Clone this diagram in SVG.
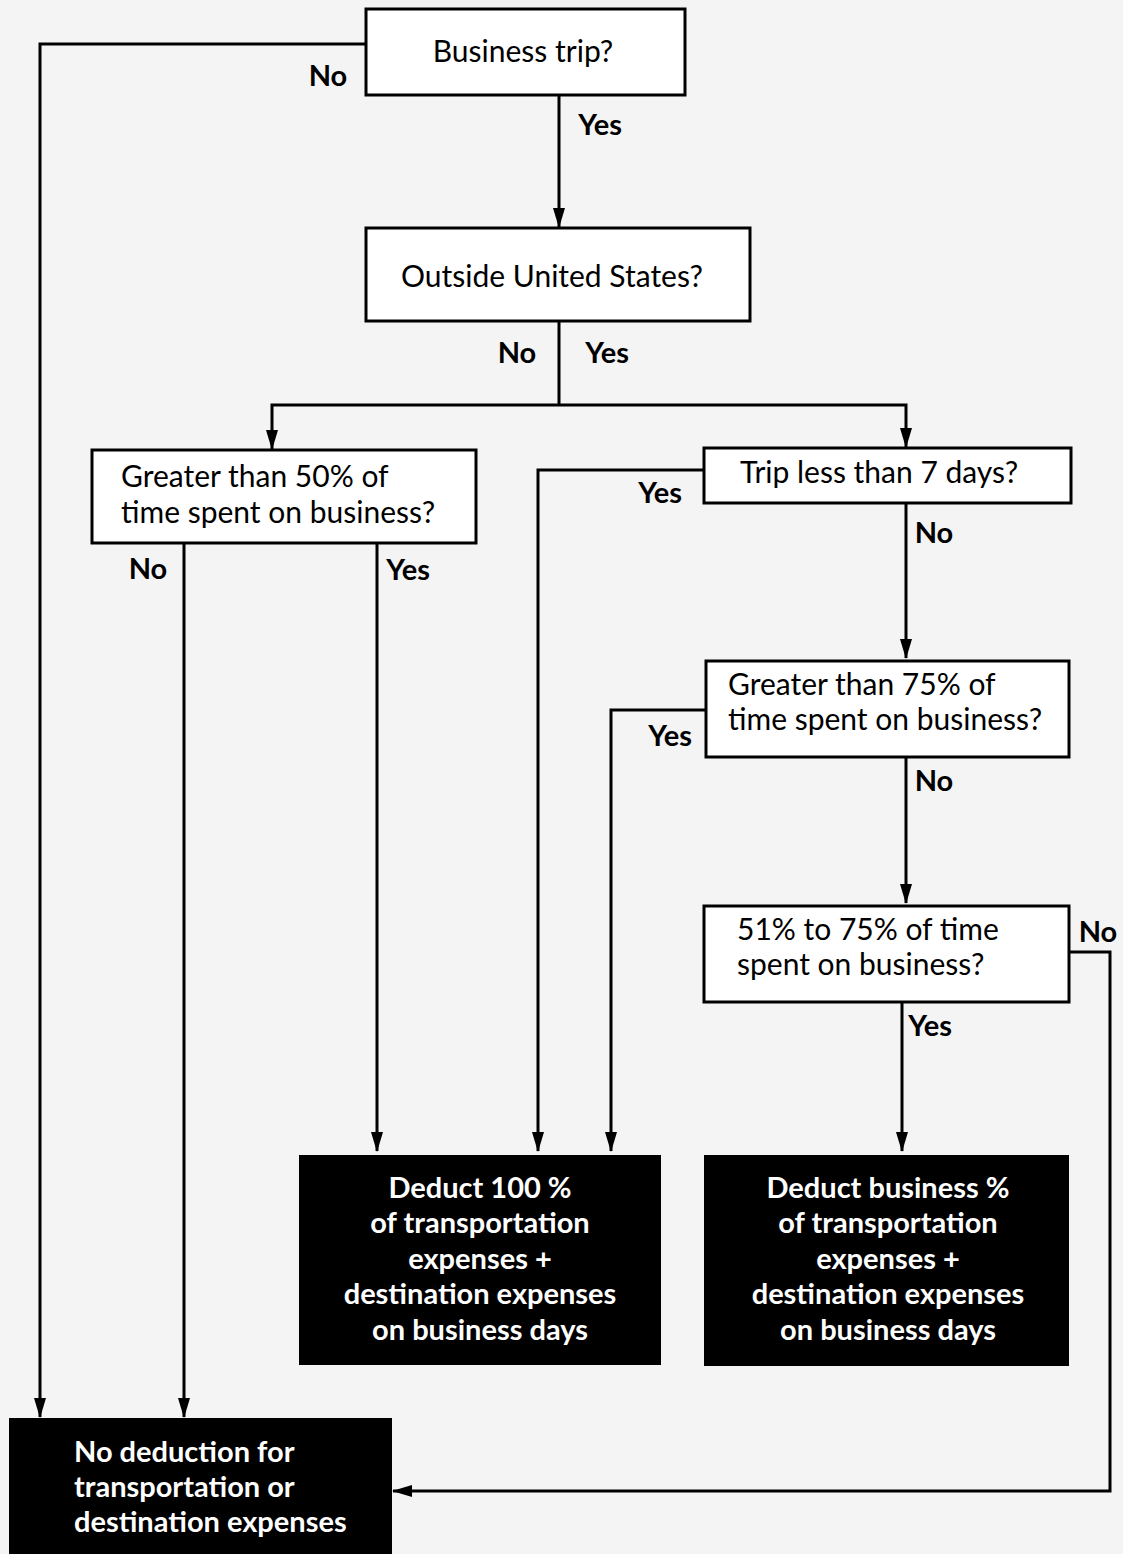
<svg xmlns="http://www.w3.org/2000/svg" width="1123" height="1554" viewBox="0 0 1123 1554">
<style>
.bg{fill:#f4f4f4}
.q{fill:#fff;stroke:#000;stroke-width:3}
.r{fill:#000}
.t{font-family:"Lato","Open Sans",sans-serif;font-size:30px;fill:#000}
.w{font-family:"Lato","Open Sans",sans-serif;font-size:29px;font-weight:bold;fill:#fff;text-anchor:middle}
.ws{font-family:"Lato","Open Sans",sans-serif;font-size:29px;font-weight:bold;fill:#fff}
.l{font-family:"Lato","Open Sans",sans-serif;font-size:29px;font-weight:bold;fill:#000;text-anchor:middle}
.c{fill:none;stroke:#000;stroke-width:3}
</style>
<defs>
<marker id="a" markerWidth="20" markerHeight="12" refX="19" refY="6" orient="auto" markerUnits="userSpaceOnUse">
<path d="M0,0 L20,6 L0,12 Z" fill="#000"/>
</marker>
</defs>
<rect class="bg" x="0" y="0" width="1123" height="1554"/>
<g id="connectors">
<path class="c" d="M366,44 H40 V1417" marker-end="url(#a)"/>
<path class="c" d="M559,95 V227" marker-end="url(#a)"/>
<path class="c" d="M559,321 V405"/>
<path class="c" d="M559,405 H272 V449" marker-end="url(#a)"/>
<path class="c" d="M559,405 H906 V447" marker-end="url(#a)"/>
<path class="c" d="M184,543 V1417" marker-end="url(#a)"/>
<path class="c" d="M377,543 V1151" marker-end="url(#a)"/>
<path class="c" d="M704,470 H538 V1151" marker-end="url(#a)"/>
<path class="c" d="M906,503 V658" marker-end="url(#a)"/>
<path class="c" d="M706,710 H611 V1151" marker-end="url(#a)"/>
<path class="c" d="M906,757 V903" marker-end="url(#a)"/>
<path class="c" d="M902,1002 V1151" marker-end="url(#a)"/>
<path class="c" d="M1069,952 H1110 V1491 H393" marker-end="url(#a)"/>
<text class="l" x="328" y="86">No</text>
<text class="l" x="600" y="135">Yes</text>
<text class="l" x="517" y="363">No</text>
<text class="l" x="607" y="363">Yes</text>
<text class="l" x="148" y="579">No</text>
<text class="l" x="408" y="580">Yes</text>
<text class="l" x="660" y="503">Yes</text>
<text class="l" x="934" y="543">No</text>
<text class="l" x="670" y="746">Yes</text>
<text class="l" x="934" y="791">No</text>
<text class="l" x="1098" y="942">No</text>
<text class="l" x="930" y="1036">Yes</text>
</g>
<g id="n1">
<rect class="q" x="366" y="9" width="319" height="86"/>
<text class="t" x="523" y="62" text-anchor="middle">Business trip?</text>
</g>
<g id="n2">
<rect class="q" x="366" y="228" width="384" height="93"/>
<text class="t" x="552" y="287" text-anchor="middle">Outside United States?</text>
</g>
<g id="n3">
<rect class="q" x="92" y="450" width="384" height="93"/>
<text class="t" x="121" y="487">Greater than 50% of</text>
<text class="t" x="121" y="523">time spent on business?</text>
</g>
<g id="n4">
<rect class="q" x="704" y="448" width="367" height="55"/>
<text class="t" x="740" y="483">Trip less than 7 days?</text>
</g>
<g id="n5">
<rect class="q" x="706" y="661" width="363" height="96"/>
<text class="t" x="728" y="695">Greater than 75% of</text>
<text class="t" x="728" y="730">time spent on business?</text>
</g>
<g id="n6">
<rect class="q" x="704" y="906" width="365" height="96"/>
<text class="t" x="737" y="940">51% to 75% of time</text>
<text class="t" x="737" y="975">spent on business?</text>
</g>
<g id="n7">
<rect class="r" x="299" y="1155" width="362" height="210"/>
<text class="w" x="480" y="1198">Deduct 100 %</text>
<text class="w" x="480" y="1233">of transportation</text>
<text class="w" x="480" y="1269">expenses +</text>
<text class="w" x="480" y="1304">destination expenses</text>
<text class="w" x="480" y="1340">on business days</text>
</g>
<g id="n8">
<rect class="r" x="704" y="1155" width="365" height="211"/>
<text class="w" x="888" y="1198">Deduct business %</text>
<text class="w" x="888" y="1233">of transportation</text>
<text class="w" x="888" y="1269">expenses +</text>
<text class="w" x="888" y="1304">destination expenses</text>
<text class="w" x="888" y="1340">on business days</text>
</g>
<g id="n9">
<rect class="r" x="9" y="1418" width="383" height="136"/>
<text class="ws" x="74" y="1462">No deduction for</text>
<text class="ws" x="74" y="1497">transportation or</text>
<text class="ws" x="74" y="1532">destination expenses</text>
</g>
</svg>
